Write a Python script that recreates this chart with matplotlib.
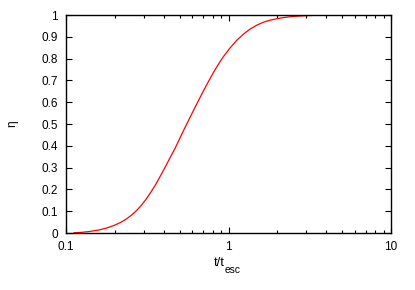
import numpy as np
import matplotlib
matplotlib.use('Agg')
import matplotlib.pyplot as plt
from matplotlib.ticker import FixedLocator, LogLocator, NullFormatter

plt.rcParams['font.family'] = ['Liberation Sans', 'DejaVu Sans']

# values
t_over_tesc = [0.112, 0.125, 0.14, 0.16, 0.18, 0.198, 0.216, 0.234, 0.252, 0.27,
               0.29, 0.311, 0.334, 0.358, 0.385, 0.413, 0.44, 0.47, 0.5, 0.527,
               0.563, 0.6, 0.65, 0.699, 0.75, 0.806, 0.865, 0.928, 1.02, 1.124,
               1.24, 1.36, 1.5, 1.64, 1.8, 1.98, 2.18, 2.39, 2.7, 3.03, 3.5, 4.0,
               6.0, 10.0]
eta = [0.001, 0.003, 0.007, 0.014, 0.024, 0.035, 0.048, 0.063, 0.081, 0.101,
       0.126, 0.155, 0.189, 0.225, 0.268, 0.31, 0.35, 0.39, 0.432, 0.468,
       0.511, 0.553, 0.604, 0.65, 0.693, 0.735, 0.773, 0.808, 0.848, 0.884,
       0.913, 0.936, 0.954, 0.967, 0.976, 0.983, 0.988, 0.992, 0.995, 0.997,
       0.999, 1.0, 1.0, 1.0]

xticks = [0.1, 1, 10]
xticklabels = ['0.1', '1', '10']
yticks = [0, 0.1, 0.2, 0.3, 0.4, 0.5, 0.6, 0.7, 0.8, 0.9, 1]
yticklabels = ['0', '0.1', '0.2', '0.3', '0.4', '0.5', '0.6', '0.7', '0.8', '0.9', '1']

fig = plt.figure(figsize=(4.15, 2.9), dpi=100)
ax = fig.add_axes([66/415, 1-233/290, 325/415, 218/290])

ax.plot(t_over_tesc, eta, color='#ff0000', lw=0.9)

ax.set_xscale('log')
ax.set_xlim(0.1, 10)
ax.set_ylim(0, 1)
ax.xaxis.set_major_locator(FixedLocator(xticks))
ax.set_xticklabels(xticklabels)
ax.xaxis.set_minor_locator(LogLocator(base=10, subs=np.arange(2, 10)))
ax.xaxis.set_minor_formatter(NullFormatter())
ax.set_yticks(yticks)
ax.set_yticklabels(yticklabels)

ax.tick_params(which='both', direction='in', top=True, right=True,
               labelsize=8.5, width=0.8, pad=6)
ax.tick_params(which='major', length=4.3)
ax.tick_params(which='minor', length=2.2)
for s in ax.spines.values():
    s.set_linewidth(1.0)

# x label with a gnuplot-like subscript
ax.set_xlabel('t/t', fontsize=9.25)
ax.xaxis.set_label_coords(0.471, -0.11)
ax.annotate('esc', xy=(1, 0), xycoords=ax.xaxis.label, xytext=(0.3, -3.1),
            textcoords='offset points', fontsize=7.4, ha='left', va='baseline')

ax.set_ylabel('η', fontsize=8.5)
ax.yaxis.set_label_coords(-0.148, 0.5)

fig.savefig('out.png', dpi=100)
